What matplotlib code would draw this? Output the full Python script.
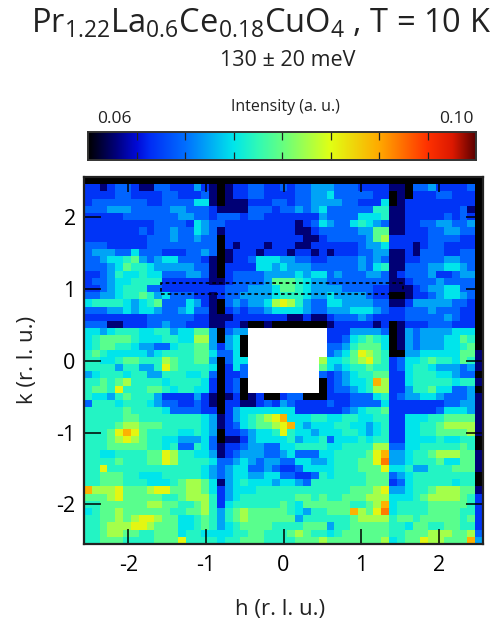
import matplotlib
matplotlib.use('Agg')
import matplotlib.pyplot as plt
import numpy as np
from matplotlib.colors import LinearSegmentedColormap
from matplotlib.patches import Rectangle

plt.rcParams['font.family'] = ['Open Sans', 'DejaVu Sans']
plt.rcParams['mathtext.default'] = 'regular'

# intensity, one code per cell, top row first ('.' = no data)
level_codes = '0123456789ab'
level_values = [0.0600, 0.0628, 0.0668, 0.0695, 0.0722, 0.0750, 0.0768, 0.0795, 0.0825, 0.0855, 0.0895, 0.0920]
level_rows = [
    '00000000000000000 0 000 0000000000 00000000 000 000000000',
    '22123321133222421 0 122 3322323344 43332222 110 334222230',
    '22223322223322231 0 122 3322223344 53333322 010 222332220',
    '23333333223333551 0 111 2223323344 44332225 012 222222220',
    '33344433333443332 1 111 3332334345 33333366 112 222222310',
    '22222333333344332 3 332 3322222224 33335556 112 222232320',
    '22222222233332543 3 222 2222221235 43356543 112 233443340',
    '22222223233433543 1 222 2222221123 33334477 112 223344330',
    '22222222333433433 0 222 2222222112 33333478 222 223333220',
    '33322222333333333 0 212 2212221122 22223445 222 123322220',
    '34443353332223343 0 122 2122212212 12223344 112 133322330',
    '33455674345533321 0 122 3555443322 33334343 112 233344330',
    '33345766544444331 0 222 2554544433 33334356 113 334455430',
    '22346556553334431 0 233 3344445455 34333443 123 334223440',
    '23345566662222221 1 233 3347776544 33333333 112 333433330',
    '22345666332222222 2 333 4445776544 44333322 111 234455330',
    '33445667645333221 2 334 4445666544 54444322 001 223455430',
    '56666545673335421 0 343 4458986433 55444433 112 444443320',
    '33344545543345331 0 232 3345555433 44455543 223 334333220',
    '22222222333333221 1 122 2222211211 23334322 223 333343220',
    '33311222334332221 1 221 0010000000 12222212 012 223332220',
    '55456665566455774 0 344 .......... 22244443 014 344445550',
    '56777765556655884 0 450 .......... 22356765 014 344455760',
    '56776654433566774 2 450 .......... 33467775 014 344455670',
    '67655 55545 66667 75 3 350 .......... 34579876 004 455555771',
    '66556 77666 87667 74 0 355 .........8 55678976 235 567665761',
    '66664 66446 97666 65 0 253 .........7 54566766 235 665444341',
    '45666 56644 66655 63 0 223 .........3 23456677 225 666554330',
    '66767 86666 56666 52 0 230 .........0 234556a8 225 666665661',
    '67769 66677 65665 52 0 230 .........0 23345688 224 667553340',
    '65546 76664 22224 21 0 120 1200233000 22233356 234 455433341',
    '36665 66654 33223 21 0 221 1232432222 32233335 222 222233441',
    '66666 76666 53333 22 0 245 5555552222 22345667 222 222355541',
    '66666 77666 66666 54 1 245 6789a55566 55665566 225 556677771',
    '66667 88777 66666 54 1 235 67789a5455 56655456 225 566788881',
    '66679 a9766 66556 54 0 223 4556965545 55665456 225 566777781',
    '66678 98766 55444 53 0 112 4555564556 35556566 225 555655660',
    '66677 77766 56336 53 1 223 4433556666 55666688 335 566666760',
    '66556 66677 98665 54 1 234 4433453335 5666679a 445 667888771',
    '66667 66677 98666 65 3 345 4344335544 5666779b 445 666755771',
    '66966 66666 66666 54 3 455 3343223555 56667779 556 446667771',
    '66777 66555 66666 54 3 455 4455332236 56666777 345 666666660',
    '66777 66655 56788 75 1 456 5554554366 66666777 235 666665660',
    'a8889 77789 97788 75 2 455 5666666666 66677789 445 667888771',
    '77789 77777 66788 86 2 456 6666667767 66777888 555 678888762',
    '66777 77788 77667 86 2 566 6666765777 7776678a 566 667777762',
    '56778 77777 76677 86 4 678 7777765466 777a879b 566 667777662',
    '66778 78998 77556 76 4 678 7777774666 66678888 677 677777672',
    '66788 89987 77556 76 4 567 7776666777 46677777 665 776677662',
    '66788 77667 77566 55 5 566 7766678766 56777777 667 778887783',
    '66777 66667 77966 66 5 667 7766667778 77777778 567 7988777a4',
]

tick_positions = [-2, -1, 0, 1, 2]
x_tick_labels = ['-2', '-1', '0', '1', '2']
y_tick_labels = ['-2', '-1', '0', '1', '2']
intensity_min = 0.06
intensity_max = 0.10

# black - blue - cyan - green - yellow - red - dark red
cmap_stops = [
    (0.0, (0, 0, 0)), (0.07, (0, 0, 120)), (0.125, (0, 10, 215)), (0.16, (0, 45, 245)),
    (0.25, (0, 110, 255)), (0.375, (0, 230, 235)), (0.44, (50, 250, 180)), (0.5, (100, 255, 130)),
    (0.625, (225, 255, 20)), (0.75, (255, 170, 0)), (0.875, (255, 50, 0)), (0.94, (220, 25, 0)),
    (1.0, (90, 0, 0)),
]
cmap = LinearSegmentedColormap.from_list(
    'intensity', [(p, tuple(c / 255 for c in rgb)) for p, rgb in cmap_stops], N=512)
cmap.set_bad('white')

grid = []
for row in level_rows:
    row = row.replace(' ', '')
    assert len(row) == 51, row
    grid.append([np.nan if ch == '.' else level_values[level_codes.index(ch)] for ch in row])
grid = np.array(grid)

W, H = 500, 628
fig = plt.figure(figsize=(W / 100, H / 100), dpi=100)


def px_axes(left, top, right, bottom):
    return fig.add_axes([left / W, 1 - bottom / H, (right - left) / W, (bottom - top) / H])


# main map
ax = px_axes(84, 177, 483, 544)
xlim = (-2.57, 2.57)
ylim = (-2.55, 2.56)
x_edges = np.linspace(xlim[0], xlim[1], 52)
y_edges = np.linspace(ylim[1], ylim[0], 52)
ax.pcolormesh(x_edges, y_edges, grid, cmap=cmap, vmin=intensity_min, vmax=intensity_max, shading='flat')
ax.set_xlim(xlim)
ax.set_ylim(ylim)
ax.set_xticks(tick_positions)
ax.set_xticklabels(x_tick_labels, fontsize=15.5)
ax.set_yticks(tick_positions)
ax.set_yticklabels(y_tick_labels, fontsize=15.5)
ax.tick_params(axis='x', direction='in', top=True, length=11, width=1.1, pad=8)
ax.tick_params(axis='y', direction='in', right=True, length=12.5, width=1.1, pad=6)
for spine in ax.spines.values():
    spine.set_linewidth(1.6)
    spine.set_color('#222222')

# dashed cut region
ax.add_patch(Rectangle((-1.58, 0.927), 3.12, 0.157, fill=False, edgecolor='black',
                       linewidth=1.2, linestyle=(0, (2.2, 1.8))))

# colorbar
cax = px_axes(88, 132, 476, 160)
cax.imshow(np.linspace(intensity_min, intensity_max, 512).reshape(1, -1), cmap=cmap, aspect='auto',
           vmin=intensity_min, vmax=intensity_max,
           extent=[intensity_min, intensity_max, 0, 1])
cax.set_yticks([])
cax.set_xticks(np.linspace(intensity_min, intensity_max, 9)[1:-1])
cax.set_xticklabels([])
cax.tick_params(axis='x', direction='in', top=True, length=6, width=0.9, color='#222222')
for spine in cax.spines.values():
    spine.set_linewidth(1.4)
    spine.set_color('#333333')

# texts
text_color = '#222222'
fig.text(261 / W, 1 - 24 / H, r'Pr$_{1.22}$La$_{0.6}$Ce$_{0.18}$CuO$_{4}$ , T = 10 K',
         ha='center', va='center', fontsize=23.5, color=text_color)
fig.text(288 / W, 1 - 61 / H, '130 ± 20 meV', ha='center', va='center', fontsize=15.5, color=text_color)
fig.text(285 / W, 1 - 107 / H, 'Intensity (a. u.)', ha='center', va='center', fontsize=11.5, color=text_color)
fig.text(114 / W, 1 - 119 / H, '0.06', ha='center', va='center', fontsize=12.5, color=text_color)
fig.text(456 / W, 1 - 119 / H, '0.10', ha='center', va='center', fontsize=12.5, color=text_color)
fig.text(280 / W, 1 - 610 / H, 'h (r. l. u.)', ha='center', va='center', fontsize=16, color=text_color)
fig.text(27 / W, 1 - 360 / H, 'k (r. l. u.)', ha='center', va='center', rotation=90, fontsize=16, color=text_color)

plt.savefig('out.png', dpi=100)
